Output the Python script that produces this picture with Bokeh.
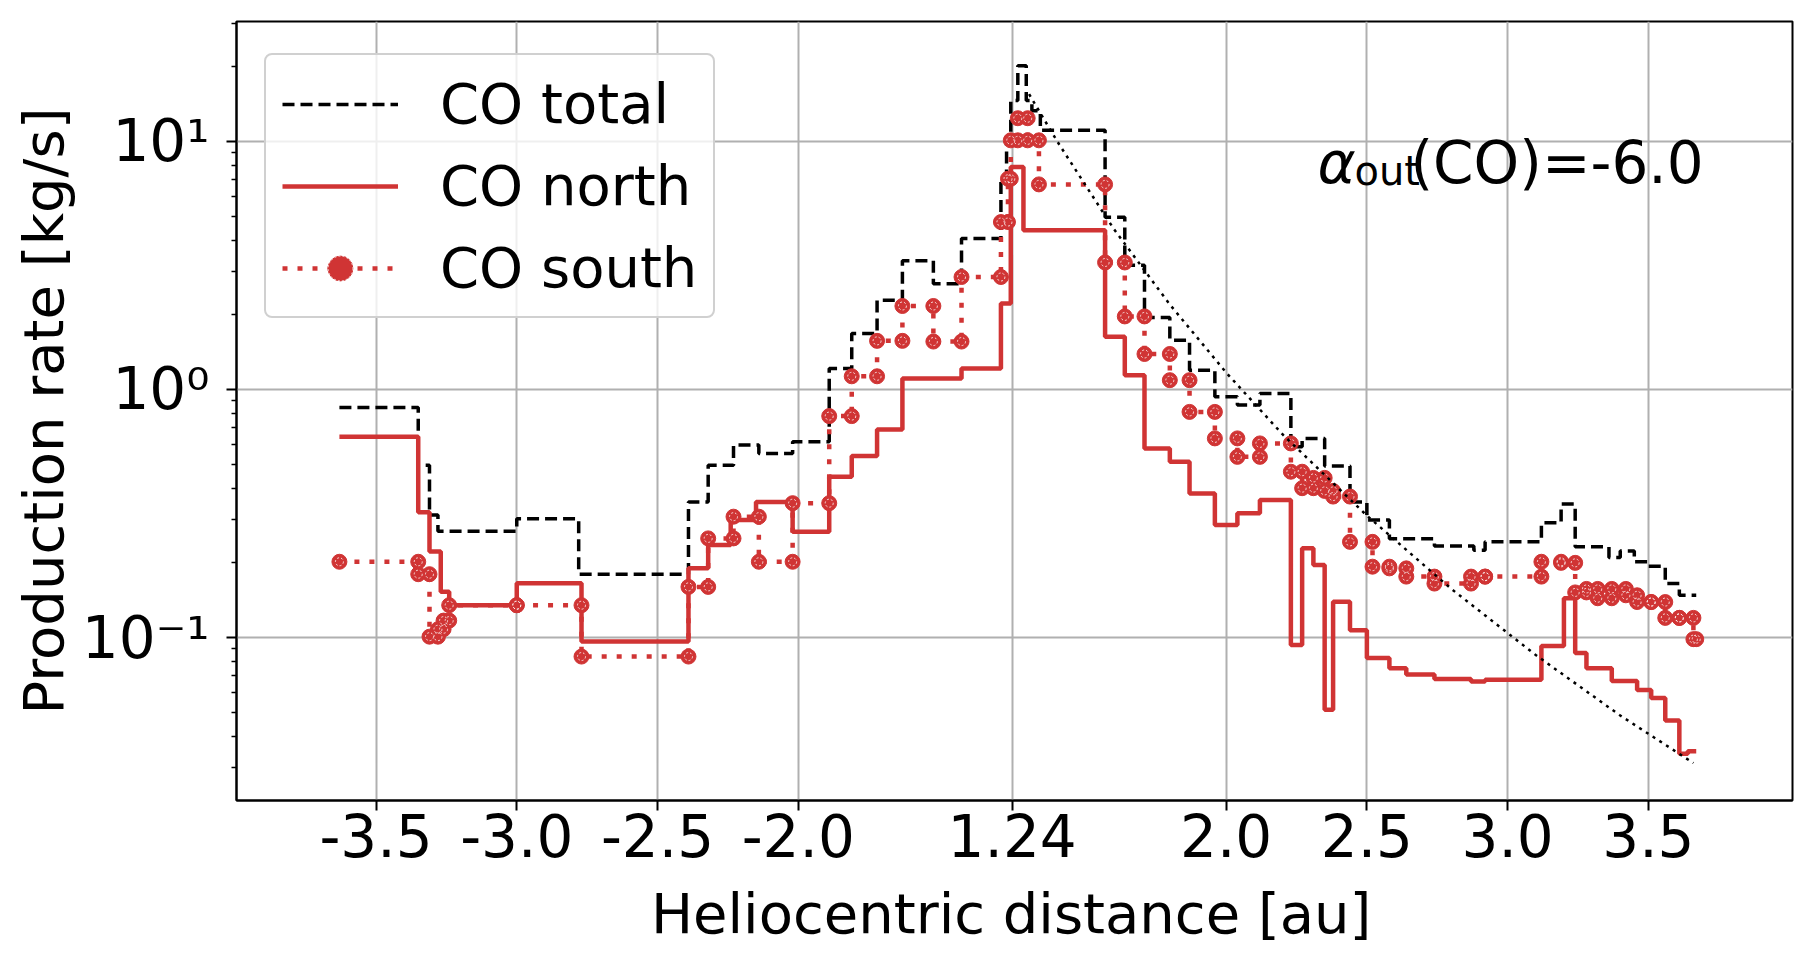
import math
from bokeh.plotting import figure
from bokeh.layouts import column
from bokeh.models import (FixedTicker, CustomJSTickFormatter, Legend, LegendItem, Label, Div)
from bokeh.embed import file_html
from bokeh.resources import INLINE

# ---------------- data (signed heliocentric distance: negative = inbound) ----------------
PERIHELION = 1.24

total_edges = [-3.63, -3.35, -3.31, -3.28, -3.00, -2.78, -2.39, -2.32, -2.23, -2.14, -2.02,
               -1.89, -1.81, -1.72, -1.63, -1.52, -1.42, -1.28, -1.26, -1.245, 1.26, 1.29,
               1.31, 1.34, 1.57, 1.64, 1.71, 1.80, 1.87, 1.96, 2.04, 2.12, 2.23, 2.27, 2.35,
               2.44, 2.50, 2.58, 2.74, 2.88, 2.92, 3.12, 3.19, 3.24, 3.36, 3.40, 3.45, 3.50,
               3.56, 3.61, 3.67]
total_values = [0.846, 0.495, 0.312, 0.268, 0.301, 0.18, 0.352, 0.495, 0.597, 0.552, 0.615,
                1.215, 1.68, 2.29, 3.30, 2.67, 4.06, 7.0, 10.5, 14.6, 20.2, 14.6, 13.3, 11.1,
                4.95, 3.17, 1.95, 1.58, 1.196, 0.934, 0.865, 0.964, 0.587, 0.635, 0.491, 0.352,
                0.298, 0.25, 0.234, 0.225, 0.243, 0.29, 0.345, 0.232, 0.21, 0.223, 0.202,
                0.194, 0.165, 0.148]

north_edges = [-3.63, -3.35, -3.31, -3.27, -3.24, -3.00, -2.77, -2.39, -2.32, -2.24, -2.15,
               -2.02, -1.89, -1.81, -1.72, -1.63, -1.42, -1.28, -1.245, 1.28, 1.57, 1.64,
               1.71, 1.80, 1.87, 1.96, 2.04, 2.12, 2.23, 2.27, 2.31, 2.35, 2.38, 2.44, 2.50,
               2.58, 2.64, 2.74, 2.87, 2.92, 3.12, 3.20, 3.24, 3.28, 3.37, 3.46, 3.51, 3.56,
               3.61, 3.64, 3.67]
north_values = [0.644, 0.32, 0.222, 0.153, 0.135, 0.1655, 0.0963, 0.19, 0.236, 0.298, 0.352,
                0.267, 0.445, 0.539, 0.69, 1.107, 1.215, 2.22, 7.88, 4.38, 1.63, 1.14, 0.578,
                0.511, 0.381, 0.284, 0.317, 0.358, 0.0933, 0.229, 0.196, 0.0511, 0.1395,
                0.107, 0.0826, 0.0752, 0.071, 0.068, 0.0665, 0.0675, 0.0925, 0.144, 0.0866,
                0.0752, 0.0668, 0.0615, 0.057, 0.0463, 0.034, 0.0348]

south_edges = [-3.63, -3.35, -3.31, -3.28, -3.26, -3.24, -3.00, -2.77, -2.39, -2.32, -2.23,
               -2.14, -2.02, -1.89, -1.81, -1.72, -1.63, -1.52, -1.42, -1.28, -1.255, -1.245,
               1.26, 1.295, 1.335, 1.57, 1.64, 1.71, 1.80, 1.87, 1.96, 2.04, 2.12, 2.23, 2.27,
               2.31, 2.35, 2.38, 2.44, 2.52, 2.58, 2.64, 2.74, 2.87, 2.92, 3.12, 3.19, 3.24,
               3.28, 3.32, 3.37, 3.42, 3.46, 3.51, 3.56, 3.61, 3.66, 3.67]
south_values = [0.202, 0.18, 0.1008, 0.108, 0.117, 0.135, 0.135, 0.0838, 0.16, 0.251, 0.307,
                0.202, 0.348, 0.781, 1.13, 1.57, 2.17, 1.56, 2.84, 4.73, 7.07, 10.1, 12.4,
                10.1, 6.71, 3.25, 1.97, 1.39, 1.09, 0.812, 0.635, 0.535, 0.606, 0.466, 0.40,
                0.44, 0.39, 0.37, 0.243, 0.193, 0.19, 0.176, 0.165, 0.176, 0.176, 0.202, 0.20,
                0.152, 0.157, 0.144, 0.157, 0.148, 0.139, 0.139, 0.12, 0.12, 0.0985]

# outbound power-law fit (alpha_out = -6.0)
fit_r = [1.30, 1.40, 1.60, 1.80, 2.00, 2.20, 2.50, 2.80, 3.10, 3.40, 3.66]
fit_values = [15.5, 10.0, 4.45, 2.20, 1.17, 0.66, 0.31, 0.157, 0.085, 0.0485, 0.0312]

x_tick_r = [-3.5, -3.0, -2.5, -2.0, 1.24, 2.0, 2.5, 3.0, 3.5]
x_tick_labels = ["-3.5", "-3.0", "-2.5", "-2.0", "1.24", "2.0", "2.5", "3.0", "3.5"]
y_ticks = [0.1, 1.0, 10.0]
y_tick_labels = ["10\u207b\u00b9", "10\u2070", "10\u00b9"]

# ---------------- helpers ----------------
def to_x(r):
    return r if r > 0 else r + 2 * PERIHELION

def steps(edges, values):
    xs, ys = [], []
    for i, v in enumerate(values):
        xs += [to_x(edges[i]), to_x(edges[i + 1])]
        ys += [v, v]
    return xs, ys

RED = "#d03434"
FONT = "DejaVu Sans"
FS = "58px"
FS_LAB = "56px"

X0, X1 = -1.5156, 4.012
Y0, Y1 = 0.02203, 30.43

p = figure(width=1799, height=887, y_axis_type="log",
           x_range=(X0, X1), y_range=(Y0, Y1),
           output_backend="svg", toolbar_location=None,
           min_border_left=236, min_border_right=7, min_border_top=21, min_border_bottom=87)
p.background_fill_color = "white"
p.border_fill_color = "white"
p.outline_line_color = "black"
p.outline_line_width = 2
p.outline_line_alpha = 1.0

tx, ty = steps(total_edges, total_values)
nx, ny = steps(north_edges, north_values)
sx, sy = steps(south_edges, south_values)
fx = [to_x(r) for r in fit_r]

r_total = p.line(tx, ty, line_color="black", line_width=3.5, line_dash="12 6")
r_north = p.line(nx, ny, line_color=RED, line_width=4.5)
r_south = p.line(sx, sy, line_color=RED, line_width=4.5, line_dash="5 10")
r_dots = p.scatter(sx, sy, marker="circle", size=15, fill_color=RED, line_color=RED)
r_ring = p.scatter(sx, sy, marker="circle", size=8, fill_alpha=0, line_color="white",
                   line_width=0.8, line_dash="2 2")
p.line(fx, fit_values, line_color="black", line_width=2.5, line_dash="3 5")

# ---------------- axes ----------------
x_tick_pos = [round(to_x(r), 6) for r in x_tick_r]
p.xaxis.ticker = FixedTicker(ticks=x_tick_pos)
p.xaxis.formatter = CustomJSTickFormatter(args=dict(t=x_tick_pos, l=x_tick_labels), code="""
for (let i = 0; i < t.length; i++) { if (Math.abs(tick - t[i]) < 1e-6) return l[i]; }
return "";
""")
minor = [k * 10.0 ** d for d in range(-2, 2) for k in range(2, 10)]
p.yaxis.ticker = FixedTicker(ticks=y_ticks, minor_ticks=minor)
p.yaxis.formatter = CustomJSTickFormatter(args=dict(t=y_ticks, l=y_tick_labels), code="""
for (let i = 0; i < t.length; i++) { if (Math.abs(Math.log10(tick) - Math.log10(t[i])) < 1e-6) return l[i]; }
return "";
""")

for ax in (p.xaxis[0], p.yaxis[0]):
    ax.axis_line_width = 2
    ax.axis_line_color = "black"
    ax.major_tick_in = 0
    ax.major_tick_out = 10
    ax.major_tick_line_width = 2
    ax.minor_tick_in = 0
    ax.minor_tick_out = 5
    ax.minor_tick_line_width = 1.5
    ax.major_label_text_font = FONT
    ax.major_label_text_font_size = FS
    ax.major_label_text_color = "black"

p.xaxis.minor_tick_line_color = None
p.xaxis.major_label_standoff = 3
p.yaxis.major_label_standoff = 17
p.yaxis.axis_label = "Production rate [kg/s]"
p.yaxis.axis_label_text_font = FONT
p.yaxis.axis_label_text_font_size = FS_LAB
p.yaxis.axis_label_text_font_style = "normal"
p.yaxis.axis_label_text_color = "black"
p.yaxis.axis_label_standoff = 3

p.xgrid.grid_line_color = "#b0b0b0"
p.xgrid.grid_line_width = 2
p.ygrid.grid_line_color = "#b0b0b0"
p.ygrid.grid_line_width = 2
p.ygrid.minor_grid_line_color = None

# ---------------- legend ----------------
legend = Legend(items=[LegendItem(label="CO total", renderers=[r_total]),
                       LegendItem(label="CO north", renderers=[r_north]),
                       LegendItem(label="CO south", renderers=[r_south, r_dots, r_ring])],
                location=(28, 482), margin=0, padding=16, spacing=17,
                glyph_width=116, glyph_height=62, label_height=62, label_standoff=42,
                label_text_font=FONT, label_text_font_size=FS_LAB, label_text_color="black",
                border_line_color="#d0d0d0", border_line_width=2, border_line_alpha=1.0,
                background_fill_color="white", background_fill_alpha=0.8, border_radius=8)
p.add_layout(legend)

# ---------------- annotation ----------------
ax0, ay0 = 2.3565, 6.59
p.add_layout(Label(x=ax0, y=ay0, x_offset=-9, y_offset=23, text="\u03b1", text_font=FONT,
                   text_font_size=FS, text_font_style="italic", text_color="black",
                   text_baseline="alphabetic"))
p.add_layout(Label(x=ax0, y=ay0, x_offset=28, y_offset=15, text="out", text_font=FONT,
                   text_font_size="40px", text_color="black", text_baseline="alphabetic"))
p.add_layout(Label(x=ax0, y=ay0, x_offset=84, y_offset=23, text="(CO)=-6.0", text_font=FONT,
                   text_font_size=FS, text_color="black", text_baseline="alphabetic"))

# x-axis title, set directly below the figure
xlabel = Div(text=('<div style="padding-left:651px;padding-top:0px;font-family:\'DejaVu Sans\';'
                   'font-size:56px;line-height:54px;color:black;white-space:nowrap;">'
                   'Heliocentric distance [au]</div>'),
             width=1799, height=55, margin=(0, 0, 0, 0))

layout = column(p, xlabel, spacing=0)
open("out.html", "w").write(file_html(layout, INLINE))
